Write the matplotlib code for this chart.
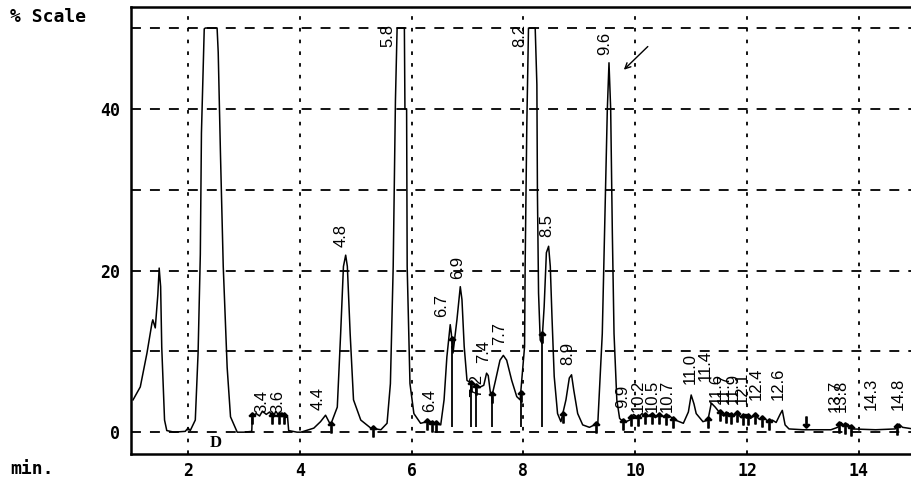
import numpy as np
import matplotlib
matplotlib.use("Agg")
import matplotlib.pyplot as plt

# ---------------- data ----------------
trace_time = [1.017, 1.146, 1.266, 1.355, 1.37, 1.414, 1.46, 1.484, 1.51, 1.53, 1.58, 1.62, 1.75,
              1.95, 2.0, 2.04, 2.13, 2.18, 2.22, 2.24, 2.29, 2.31, 2.52, 2.54, 2.58, 2.63, 2.70,
              2.76, 2.88, 3.0, 3.14, 3.15, 3.22, 3.28, 3.33, 3.40, 3.46, 3.52, 3.57, 3.63, 3.68,
              3.74, 3.78, 3.80, 3.95, 4.02, 4.25, 4.37, 4.46, 4.55, 4.67, 4.73, 4.78, 4.82, 4.85,
              4.90, 4.96, 5.09, 5.27, 5.45, 5.56, 5.62, 5.67, 5.71, 5.74, 5.87, 5.88, 5.91, 5.92,
              5.97, 6.04, 6.16, 6.28, 6.34, 6.39, 6.52, 6.58, 6.63, 6.69, 6.71, 6.74, 6.81, 6.87,
              6.90, 6.94, 6.99, 7.08, 7.20, 7.29, 7.34, 7.37, 7.41, 7.44, 7.50, 7.58, 7.64, 7.70,
              7.79, 7.88, 7.94, 8.02, 8.03, 8.06, 8.09, 8.21, 8.24, 8.25, 8.27, 8.30, 8.33, 8.37,
              8.41, 8.45, 8.48, 8.51, 8.55, 8.61, 8.67, 8.76, 8.82, 8.86, 8.90, 8.97, 9.06, 9.18,
              9.33, 9.41, 9.45, 9.50, 9.53, 9.56, 9.59, 9.62, 9.67, 9.72, 9.80, 9.90, 9.97, 10.05,
              10.12, 10.20, 10.28, 10.36, 10.44, 10.52, 10.60, 10.68, 10.75, 10.86, 10.95, 11.00,
              11.05, 11.09, 11.21, 11.30, 11.36, 11.43, 11.50, 11.58, 11.66, 11.74, 11.82, 11.90,
              11.98, 12.06, 12.14, 12.22, 12.30, 12.38, 12.45, 12.52, 12.59, 12.63, 12.68, 12.75,
              13.0, 13.5, 13.62, 13.68, 13.74, 13.80, 13.88, 14.3, 14.65, 14.72, 14.78, 14.97]
trace_signal = [4.0, 5.6, 9.8, 13.5, 13.9, 12.9, 17.0, 20.3, 18.0, 10.5, 1.5, 0.2, 0.0,
                0.1, 0.5, 0.2, 1.5, 9.8, 22.0, 37.0, 49.9, 50.0, 50.0, 47.0, 34.5, 20.5, 8.0,
                1.9, 0.0, 0.0, 0.1, 2.0, 2.3, 2.0, 2.6, 2.2, 2.5, 1.8, 2.6, 2.0, 2.4,
                1.8, 1.9, 0.2, 0.0, 0.0, 0.5, 1.3, 2.1, 0.9, 3.1, 12.2, 20.5, 21.9, 20.5,
                12.2, 4.0, 1.5, 0.5, 0.3, 1.1, 6.0, 20.5, 41.0, 50.0, 50.0, 40.0, 40.0, 20.5,
                6.0, 2.3, 1.1, 1.3, 1.0, 1.1, 0.9, 4.0, 9.3, 13.3, 12.2, 9.8, 13.9, 18.0,
                16.4, 10.6, 6.4, 6.0, 5.5, 5.8, 7.3, 7.0, 4.8, 4.6, 6.4, 8.9, 9.5, 8.9,
                6.4, 4.4, 4.0, 10.6, 20.5, 38.0, 50.0, 50.0, 43.0, 29.6, 17.2, 11.4, 11.0, 15.5,
                22.2, 23.0, 20.5, 14.3, 6.9, 2.3, 1.3, 4.0, 6.7, 7.1, 5.2, 2.3, 0.9, 0.6,
                1.1, 12.2, 24.6, 39.9, 45.7, 40.0, 24.6, 12.2, 4.0, 1.7, 1.2, 1.5, 2.2, 1.8,
                2.3, 1.9, 2.2, 1.8, 2.2, 1.9, 2.1, 1.6, 1.4, 1.1, 2.5, 4.6,
                3.5, 2.3, 1.3, 1.5, 3.6, 3.1, 2.5, 2.0, 2.4, 1.9, 2.3, 1.8,
                2.2, 1.7, 2.1, 1.6, 1.8, 1.3, 1.5, 1.2, 2.2, 2.7, 0.9, 0.4,
                0.3, 0.3, 0.6, 1.2, 0.8, 1.0, 0.4, 0.3, 0.4, 1.0, 0.6, 0.4]

peak_labels = ["3.4", "3.6", "4.4", "4.8", "5.8", "6.4", "6.7", "6.9", "7.2", "7.4", "7.7",
               "8.2", "8.5", "8.9", "9.6", "9.9", "10.2", "10.5", "10.7", "11.0", "11.4",
               "11.6", "11.7", "11.9", "12.1", "12.4", "12.6", "13.7", "13.8", "14.3", "14.8"]
label_time = [3.32, 3.61, 4.32, 4.74, 5.58, 6.33, 6.54, 6.83, 7.16, 7.28, 7.58,
              7.94, 8.41, 8.80, 9.46, 9.78, 10.05, 10.30, 10.57, 10.98, 11.26,
              11.44, 11.59, 11.75, 11.91, 12.16, 12.55, 13.57, 13.68, 14.23, 14.70]
label_level = [2.4, 2.4, 2.7, 22.9, 47.6, 2.5, 14.3, 19.0, 4.3, 8.5, 10.8,
               47.6, 24.2, 8.3, 46.7, 3.0, 2.5, 2.5, 2.5, 6.0, 6.3,
               3.5, 3.5, 3.5, 3.5, 4.0, 4.0, 2.5, 2.5, 2.8, 2.8]

drop_times = [6.73, 7.07, 7.16, 7.43, 7.95, 8.34]
marker_times = [3.15, 3.50, 3.62, 3.72, 4.55, 5.30, 6.28, 6.36, 6.44, 6.72, 7.07, 7.16,
                7.43, 7.95, 8.34, 8.70, 9.30, 9.78, 9.93, 10.05, 10.18, 10.30, 10.42, 10.55,
                10.68, 11.30, 11.52, 11.62, 11.72, 11.82, 11.92, 12.02, 12.14, 12.26, 12.40,
                13.65, 13.75, 13.85, 14.68]
down_marker_times = [13.05]

x_ticks = [2, 4, 6, 8, 10, 12, 14]
y_grid = [0, 10, 20, 30, 40, 50]
y_labels = ["0", "", "20", "", "40", ""]

# ---------------- figure ----------------
fig = plt.figure(figsize=(9.12, 4.79), dpi=100)
ax = fig.add_axes([131 / 912, 25 / 479, 1 - 131 / 912, 447 / 479])
ax.set_xlim(0.98, 14.95)
ax.set_ylim(-2.7, 52.6)

mono = "DejaVu Sans Mono"

# grid
for xv in x_ticks:
    ax.axvline(xv, color="black", lw=1.3, ls=(0, (2.0, 4.5)), zorder=1)
for yv in y_grid:
    ax.axhline(yv, color="black", lw=1.3, ls=(0, (5.5, 5.0)), zorder=1)

tt = np.array(trace_time)
ss = np.array(trace_signal)
ax.plot(tt, ss, color="black", lw=1.1, zorder=3)

# drop lines
for d in drop_times:
    ax.vlines(d, 0.6, np.interp(d, tt, ss), color="black", lw=1.3, zorder=3)

# markers
mt = np.array(marker_times)
ax.plot(mt, np.interp(mt, tt, ss) - 0.3, ls="none", marker=r"$\uparrow$", ms=8,
        color="black", zorder=4)
dt = np.array(down_marker_times)
ax.plot(dt, np.interp(dt, tt, ss) + 1.0, ls="none", marker=r"$\downarrow$", ms=8,
        color="black", zorder=4)

# peak labels
for lab, xt, yl in zip(peak_labels, label_time, label_level):
    ax.text(xt, yl, lab, rotation=90, ha="center", va="bottom",
            family="Liberation Sans", fontsize=12, zorder=5)

ax.text(2.5, -1.3, "D", family="Liberation Serif", fontweight="bold", fontsize=12,
        ha="center", va="center")

ax.annotate("", xy=(9.76, 44.6), xytext=(10.26, 47.95),
            arrowprops=dict(arrowstyle="->", color="black", lw=1.0))

ax.set_xticks(x_ticks)
ax.set_xticklabels([str(v) for v in x_ticks], family=mono, fontweight="bold", fontsize=12)
ax.set_yticks(y_grid)
ax.set_yticklabels(y_labels, family=mono, fontweight="bold", fontsize=12)
ax.tick_params(length=0, pad=8)
ax.tick_params(axis="x", pad=6)

for side in ["left", "bottom", "top"]:
    ax.spines[side].set_linewidth(1.8)
ax.spines["right"].set_visible(False)

fig.text(10 / 912, 1 - 17 / 479, "% Scale", family=mono, fontweight="bold", fontsize=13,
         ha="left", va="center")
fig.text(10 / 912, 1 - 469 / 479, "min.", family=mono, fontweight="bold", fontsize=13,
         ha="left", va="center")

fig.savefig("out.png", dpi=100)
